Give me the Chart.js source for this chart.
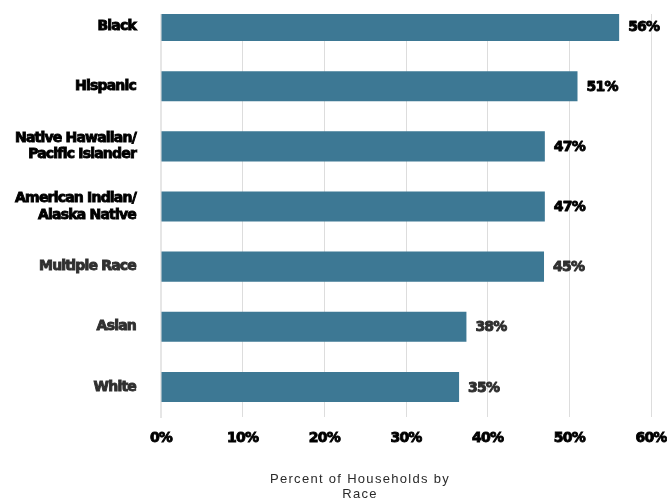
<!DOCTYPE html>
<html>
<head>
<meta charset="utf-8">
<script src="https://cdn.jsdelivr.net/npm/chart.js@4"></script>
<style>
  html, body { margin: 0; padding: 0; background: #fff; overflow: hidden; }
  #frame { width: 667px; height: 501px; position: relative; overflow: hidden; }
  #wrap { width: 667px; height: 505px; position: absolute; left: 0; top: -4px; }
</style>
</head>
<body>
<div id="frame"><div id="wrap"><canvas id="c"></canvas></div></div>
<script>
const categories = [
  'Black',
  'Hispanic',
  ['Native Hawaiian/', 'Pacific Islander'],
  ['American Indian/', 'Alaska Native'],
  'Multiple Race',
  'Asian',
  'White'
];
const values = [56.1, 51.0, 47.0, 47.0, 46.9, 37.4, 36.5];
const valueLabels = ['56%', '51%', '47%', '47%', '45%', '38%', '35%'];
const xTicks = [0, 10, 20, 30, 40, 50, 60];
const axisTitle = ['Percent of Households by', 'Race'];

const BAR = '#3d7894';
const labelColor = (i) => (i < 4 ? '#000000' : '#2f2f2f');
const FONT = 'DejaVu Sans';
const SPACING = '-0.8px';
const SHIFT = 4; // canvas sits 4px above the frame

const topClip = {
  id: 'topClip',
  beforeDraw(chart) {
    const ctx = chart.ctx;
    ctx.save();
    ctx.beginPath();
    ctx.rect(0, 14 + SHIFT, chart.width, chart.height - 14 - SHIFT);
    ctx.clip();
    ctx.letterSpacing = SPACING;
  },
  afterDraw(chart) {
    chart.ctx.restore();
  }
};

const valueLabelPlugin = {
  id: 'valueLabels',
  afterDatasetsDraw(chart) {
    const ctx = chart.ctx;
    const meta = chart.getDatasetMeta(0);
    ctx.save();
    ctx.letterSpacing = SPACING;
    ctx.font = 'bold 14px "' + FONT + '"';
    ctx.textAlign = 'left';
    ctx.textBaseline = 'middle';
    ctx.lineWidth = 0.9;
    ctx.lineJoin = 'round';
    meta.data.forEach((bar, i) => {
      const c = labelColor(i);
      ctx.fillStyle = c;
      ctx.strokeStyle = c;
      ctx.fillText(valueLabels[i], bar.x + 9, bar.y + 1);
      ctx.strokeText(valueLabels[i], bar.x + 9, bar.y + 1);
    });
    ctx.restore();
  }
};

const axisTitlePlugin = {
  id: 'axisTitle',
  afterDraw(chart) {
    const ctx = chart.ctx;
    ctx.save();
    ctx.letterSpacing = '1.3px';
    ctx.font = '13px "Liberation Sans"';
    ctx.fillStyle = '#2a2a2a';
    ctx.textAlign = 'center';
    ctx.textBaseline = 'middle';
    axisTitle.forEach((line, k) => {
      ctx.fillText(line, 360, 479 + SHIFT + k * 15);
    });
    ctx.restore();
  }
};

new Chart(document.getElementById('c'), {
  type: 'bar',
  data: {
    labels: categories,
    datasets: [{
      data: values,
      backgroundColor: BAR,
      borderWidth: 0,
      barPercentage: 0.5,
      categoryPercentage: 1.0
    }]
  },
  options: {
    indexAxis: 'y',
    responsive: true,
    maintainAspectRatio: false,
    animation: false,
    devicePixelRatio: 1,
    layout: { padding: { left: 0, right: 16, top: 0, bottom: 0 } },
    plugins: {
      legend: { display: false },
      tooltip: { enabled: false },
      title: { display: false }
    },
    scales: {
      x: {
        type: 'linear',
        min: 0,
        max: 60,
        afterBuildTicks(scale) { scale.ticks = xTicks.map(v => ({ value: v })); },
        afterFit(scale) { scale.height = 84; scale.paddingLeft = 0; scale.paddingRight = 0; },
        grid: { color: '#dddddd', lineWidth: 1, drawTicks: false },
        border: { display: false },
        ticks: {
          padding: 13,
          color: '#000000',
          font: { family: FONT, size: 14, weight: 'bold' },
          textStrokeColor: '#000000',
          textStrokeWidth: 0.9,
          callback: (v) => v + '%'
        }
      },
      y: {
        type: 'category',
        offset: true,
        afterFit(scale) { scale.width = 161; scale.paddingTop = 0; scale.paddingBottom = 0; },
        grid: { display: false, drawTicks: false },
        border: { display: true, color: '#e6e6e6', width: 2 },
        ticks: {
          padding: 25,
          autoSkip: false,
          color: (ctx) => labelColor(ctx.index),
          textStrokeColor: (ctx) => labelColor(ctx.index),
          textStrokeWidth: 0.9,
          font: { family: FONT, size: 14, weight: 'bold', lineHeight: 1.2 }
        }
      }
    }
  },
  plugins: [topClip, valueLabelPlugin, axisTitlePlugin]
});
</script>
</body>
</html>
